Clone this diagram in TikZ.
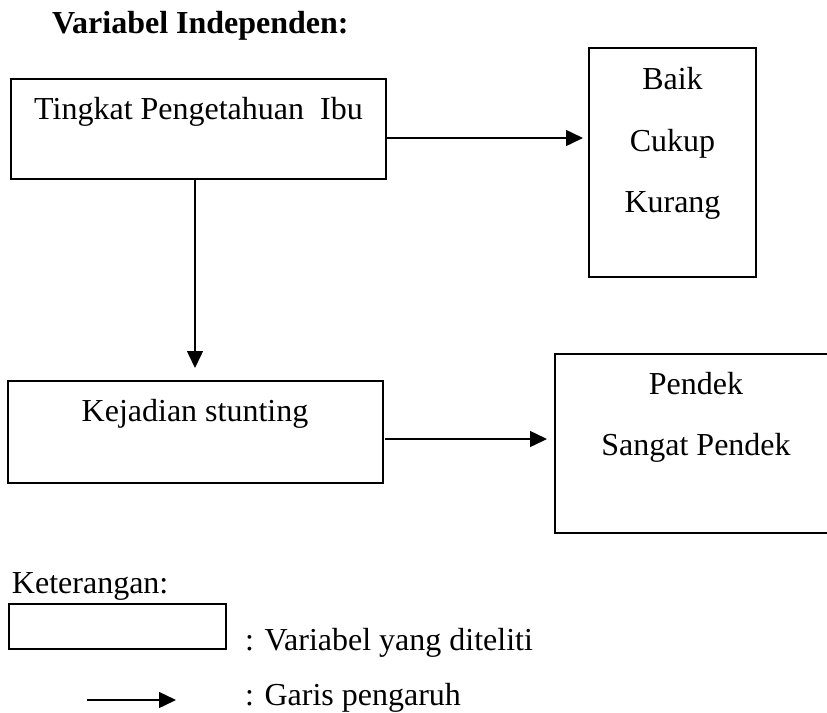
\documentclass[tikz,border=0pt]{standalone}
\usepackage{fontspec}
\setmainfont{Liberation Serif}
\usetikzlibrary{arrows.meta}
\tikzset{
  boxnode/.style={draw=black, line width=2.4pt, rectangle, inner sep=0pt, outer sep=0pt},
  legbox/.style={draw=black, line width=1.6pt, rectangle, inner sep=0pt, outer sep=0pt},
  txt/.style={inner sep=0pt, outer sep=0pt, font=\fontsize{32}{38}\selectfont},
  ttl/.style={inner sep=0pt, outer sep=0pt, font=\fontsize{32}{38}\selectfont\bfseries},
  arr/.style={draw=black, line width=1.5pt, -{Triangle[length=17pt,width=16pt]}}
}
\begin{document}
\begin{tikzpicture}[x=1pt,y=-1pt]
\clip (0,0) rectangle (827,712);
\fill[white] (0,0) rectangle (827,712);
% title
\node[ttl, anchor=base west] (title) at (52,33) {Variabel Independen:};
% boxes
\node[boxnode, minimum width=375pt, minimum height=100pt] (b1) at (198.5,129) {};
\node[boxnode, minimum width=167pt, minimum height=229pt] (baik) at (672.5,162.5) {};
\node[boxnode, minimum width=375pt, minimum height=102pt] (b2) at (195.5,432) {};
\node[boxnode, minimum width=282pt, minimum height=179pt] (pendek) at (696,443.5) {};
% texts
\node[txt, anchor=base] (t1) at (198.5,119) {Tingkat Pengetahuan\ \ Ibu};
\node[txt, anchor=base] (t2) at (195,421) {Kejadian stunting};
\node[txt, anchor=base] (tb) at (672.5,89) {Baik};
\node[txt, anchor=base] (tc) at (672.5,151) {Cukup};
\node[txt, anchor=base] (tk) at (672.5,212) {Kurang};
\node[txt, anchor=base] (tp) at (696,394) {Pendek};
\node[txt, anchor=base] (ts) at (696,455) {Sangat Pendek};
% connectors
\draw[arr, shorten >=6pt] ([yshift=-9pt]b1.east) -- ([yshift=-9pt]b1.east -| baik.west);
\draw[arr, shorten >=13pt] ([xshift=-3.5pt]b1.south) -- ([xshift=-3.5pt]b1.south |- b2.north);
\draw[arr, shorten <=2pt, shorten >=8pt] ([yshift=-7pt]b2.east) -- ([yshift=-7pt]b2.east -| pendek.west);
% legend
\node[txt, anchor=base west] (ket) at (12,593) {Keterangan:};
\node[legbox, minimum width=217pt, minimum height=45pt] (lbox) at (117.5,626.5) {};
\node[txt, anchor=base west] (lv) at (245,650) {: Variabel yang diteliti};
\coordinate (la1) at (87,700);
\coordinate (la2) at (176,700);
\draw[arr] (la1) -- (la2);
\node[txt, anchor=base west] (lg) at (245,705) {: Garis pengaruh};
\end{tikzpicture}
\end{document}
